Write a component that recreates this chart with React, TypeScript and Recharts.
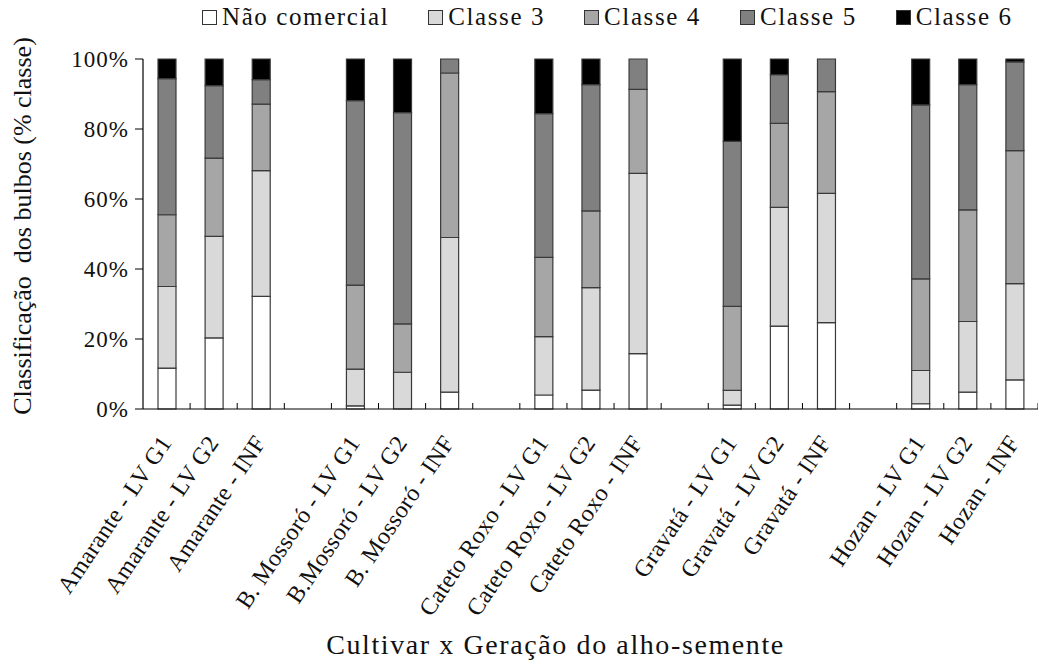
import { BarChart, Bar, XAxis, YAxis, Legend, Label } from "recharts";

// categories ("" = spacing between cultivar groups)
const categories = [
  "Amarante - LV G1", "Amarante - LV G2", "Amarante - INF", "",
  "B. Mossoró - LV G1", "B.Mossoró - LV G2", "B. Mossoró - INF", "",
  "Cateto Roxo - LV G1", "Cateto Roxo - LV G2", "Cateto Roxo - INF", "",
  "Gravatá - LV G1", "Gravatá - LV G2", "Gravatá - INF", "",
  "Hozan - LV G1", "Hozan - LV G2", "Hozan - INF",
];

// % of bulbs per class, bottom to top
const naoComercial = [11.7, 20.3, 32.2, null, 0.9, 0, 4.8, null, 4.0, 5.4, 15.8, null, 1.1, 23.7, 24.7, null, 1.5, 4.8, 8.3];
const classe3 = [23.3, 29.0, 35.9, null, 10.5, 10.5, 44.2, null, 16.7, 29.3, 51.5, null, 4.2, 33.9, 36.9, null, 9.5, 20.2, 27.5];
const classe4 = [20.5, 22.4, 19.0, null, 24.0, 13.8, 47.0, null, 22.6, 21.9, 24.0, null, 24.0, 24.0, 29.1, null, 26.2, 31.9, 38.0];
const classe5 = [38.9, 20.7, 7.0, null, 52.7, 60.4, 4.0, null, 41.1, 36.1, 8.7, null, 47.2, 13.9, 9.3, null, 49.7, 35.8, 25.4];
const classe6 = [5.6, 7.6, 5.9, null, 11.9, 15.3, 0, null, 15.6, 7.3, 0, null, 23.5, 4.5, 0, null, 13.1, 7.3, 0.8];

const yTicks = [0, 20, 40, 60, 80, 100];

const series = [
  { key: "nao", name: "Não comercial", values: naoComercial, color: "#ffffff" },
  { key: "c3", name: "Classe 3", values: classe3, color: "#d9d9d9" },
  { key: "c4", name: "Classe 4", values: classe4, color: "#a6a6a6" },
  { key: "c5", name: "Classe 5", values: classe5, color: "#808080" },
  { key: "c6", name: "Classe 6", values: classe6, color: "#000000" },
];

const data = categories.map((name, i) => {
  const row: Record<string, string | number | null> = { name };
  series.forEach((s) => (row[s.key] = s.values[i]));
  return row;
});

const FONT = "Liberation Serif";

function CategoryTick(props: any) {
  const { x, y, payload } = props;
  const half = payload.offset || 23.5;
  const ax = x - 1;
  const ay = y + 29;
  return (
    <g>
      <line x1={x + half} y1={y} x2={x + half} y2={y - 6} stroke="#000" />
      <text
        x={ax}
        y={ay}
        dy="0.35em"
        textAnchor="end"
        transform={`rotate(-56, ${ax}, ${ay})`}
        fontFamily={FONT}
        fontSize={24}
        fill="#111"
        letterSpacing={0.3}
      >
        {payload.value}
      </text>
    </g>
  );
}

function YTitle(props: any) {
  const { viewBox } = props;
  const cx = viewBox.x + 22;
  const cy = viewBox.y + viewBox.height / 2 - 8;
  return (
    <text
      x={cx}
      y={cy}
      transform={`rotate(-90, ${cx}, ${cy})`}
      textAnchor="middle"
      dominantBaseline="central"
      fontFamily={FONT}
      fontSize={26}
      fill="#111"
      style={{ whiteSpace: "pre" }}
    >
      Classificação  dos bulbos (% classe)
    </text>
  );
}

function LegendContent(props: any) {
  const order = series.map((s) => s.name);
  const items = [...(props.payload || [])].sort(
    (a: any, b: any) => order.indexOf(a.value) - order.indexOf(b.value)
  );
  return (
    <div style={{ display: "flex", gap: 39, alignItems: "center" }}>
      {items.map((p: any) => (
        <div key={p.value} style={{ display: "flex", alignItems: "center" }}>
          <span
            style={{
              display: "inline-block",
              width: 13,
              height: 13,
              background: p.color,
              border: "1px solid #333",
              marginRight: 5,
            }}
          />
          <span style={{ fontFamily: FONT, fontSize: 25, color: "#111", letterSpacing: 1.6 }}>{p.value}</span>
        </div>
      ))}
    </div>
  );
}

export default function App() {
  return (
    <div style={{ position: "absolute", left: 0, top: 0, background: "#fff" }}>
      <BarChart
        width={1038}
        height={662}
        data={data}
        margin={{ top: 59, right: 0, left: 0, bottom: 0 }}
        barSize={18}
      >
        <XAxis
          dataKey="name"
          interval={0}
          height={253}
          tickSize={0}
          tickMargin={0}
          tickLine={false}
          axisLine={{ stroke: "#000", strokeWidth: 1.2 }}
          tick={<CategoryTick />}
        >
          <Label
            value="Cultivar x Geração do alho-semente"
            position="insideBottom"
            offset={8}
            dx={-35}
            fontFamily={FONT}
            fontSize={28}
            fill="#111"
            letterSpacing={1.6}
          />
        </XAxis>
        <YAxis
          width={143}
          domain={[0, 100]}
          ticks={yTicks}
          interval={0}
          tickSize={8}
          tickMargin={6}
          tickFormatter={(v) => `${v}%`}
          axisLine={{ stroke: "#000", strokeWidth: 1.2 }}
          tickLine={{ stroke: "#000" }}
          tick={{ fontFamily: FONT, fontSize: 23, fill: "#111", letterSpacing: 1 }}
        >
          <Label content={<YTitle />} position="center" />
        </YAxis>
        <Legend
          verticalAlign="middle"
          align="center"
          content={<LegendContent />}
          wrapperStyle={{ top: 3, left: 202, width: 836 }}
        />
        {series.map((s) => (
          <Bar
            key={s.key}
            dataKey={s.key}
            name={s.name}
            stackId="a"
            fill={s.color}
            stroke="#3a3a3a"
            strokeWidth={1.2}
            isAnimationActive={false}
          />
        ))}
      </BarChart>
    </div>
  );
}
